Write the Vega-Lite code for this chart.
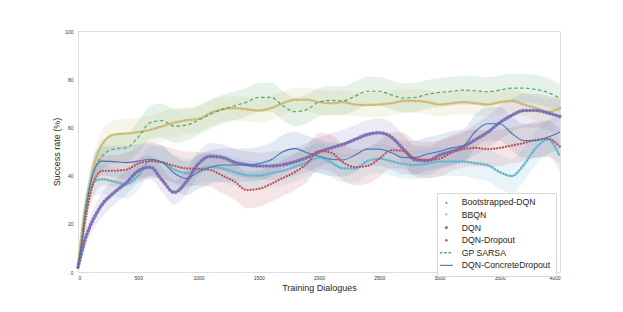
{
"$schema": "https://vega.github.io/schema/vega-lite/v6.json",
"width": 482, "height": 241,
"autosize": {"type": "none"},
"padding": {"left": 78, "top": 31, "right": 63, "bottom": 40},
"background": "white",
"config": {
 "font": "Liberation Sans",
 "view": {"stroke": "#dedede", "strokeWidth": 1},
 "axis": {"labelFontSize": 5, "labelColor": "#333333", "ticks": false, "domain": false, "grid": false, "titleFontSize": 9, "titleFontWeight": "normal", "titleColor": "#262626", "labelFont": "Liberation Sans", "titleFont": "Liberation Sans"}
},
"datasets": {"d": [
{"s":"BBQN","x":0,"y":3,"lo":2,"hi":4},
{"s":"BBQN","x":25,"y":14,"lo":11,"hi":17},
{"s":"BBQN","x":50,"y":24,"lo":20,"hi":28},
{"s":"BBQN","x":100,"y":37,"lo":32,"hi":42},
{"s":"BBQN","x":150,"y":47,"lo":41,"hi":53},
{"s":"BBQN","x":200,"y":53,"lo":47,"hi":59},
{"s":"BBQN","x":300,"y":57,"lo":51,"hi":63},
{"s":"BBQN","x":400,"y":57.5,"lo":51.5,"hi":63.5},
{"s":"BBQN","x":500,"y":58,"lo":52,"hi":64},
{"s":"BBQN","x":600,"y":59,"lo":53,"hi":65},
{"s":"BBQN","x":700,"y":60.5,"lo":54.5,"hi":66.5},
{"s":"BBQN","x":800,"y":62,"lo":56,"hi":68},
{"s":"BBQN","x":900,"y":63,"lo":57.5,"hi":68.5},
{"s":"BBQN","x":1000,"y":63.5,"lo":58,"hi":69},
{"s":"BBQN","x":1100,"y":66,"lo":60.5,"hi":71.5},
{"s":"BBQN","x":1200,"y":67.5,"lo":62.5,"hi":72.5},
{"s":"BBQN","x":1300,"y":68,"lo":63,"hi":73},
{"s":"BBQN","x":1400,"y":67.5,"lo":62.5,"hi":72.5},
{"s":"BBQN","x":1500,"y":67,"lo":62,"hi":72},
{"s":"BBQN","x":1600,"y":68,"lo":63,"hi":73},
{"s":"BBQN","x":1700,"y":70,"lo":65,"hi":75},
{"s":"BBQN","x":1800,"y":71.5,"lo":66.5,"hi":76.5},
{"s":"BBQN","x":1900,"y":71.5,"lo":66.5,"hi":76.5},
{"s":"BBQN","x":2000,"y":70.5,"lo":65.5,"hi":75.5},
{"s":"BBQN","x":2100,"y":70,"lo":65,"hi":75},
{"s":"BBQN","x":2200,"y":70.5,"lo":65.5,"hi":75.5},
{"s":"BBQN","x":2300,"y":69.5,"lo":64.5,"hi":74.5},
{"s":"BBQN","x":2400,"y":69.3,"lo":64.3,"hi":74.3},
{"s":"BBQN","x":2500,"y":69.5,"lo":64.5,"hi":74.5},
{"s":"BBQN","x":2600,"y":70,"lo":65,"hi":75},
{"s":"BBQN","x":2700,"y":71,"lo":66,"hi":76},
{"s":"BBQN","x":2800,"y":71,"lo":66,"hi":76},
{"s":"BBQN","x":2900,"y":70.5,"lo":65.5,"hi":75.5},
{"s":"BBQN","x":3000,"y":69.5,"lo":64.5,"hi":74.5},
{"s":"BBQN","x":3100,"y":70,"lo":65,"hi":75},
{"s":"BBQN","x":3200,"y":70.5,"lo":65.5,"hi":75.5},
{"s":"BBQN","x":3300,"y":70,"lo":65,"hi":75},
{"s":"BBQN","x":3400,"y":69.5,"lo":64.5,"hi":74.5},
{"s":"BBQN","x":3500,"y":70.5,"lo":65.5,"hi":75.5},
{"s":"BBQN","x":3600,"y":71,"lo":66,"hi":76},
{"s":"BBQN","x":3700,"y":69.5,"lo":64.5,"hi":74.5},
{"s":"BBQN","x":3800,"y":68,"lo":63,"hi":73},
{"s":"BBQN","x":3900,"y":66.5,"lo":61.5,"hi":71.5},
{"s":"BBQN","x":4000,"y":68,"lo":63,"hi":73},
{"s":"GP SARSA","x":0,"y":2,"lo":1,"hi":3},
{"s":"GP SARSA","x":25,"y":11,"lo":8,"hi":14},
{"s":"GP SARSA","x":50,"y":22,"lo":18,"hi":26},
{"s":"GP SARSA","x":100,"y":36,"lo":31,"hi":41},
{"s":"GP SARSA","x":150,"y":44,"lo":38,"hi":50},
{"s":"GP SARSA","x":200,"y":48,"lo":42,"hi":54},
{"s":"GP SARSA","x":300,"y":51,"lo":45,"hi":57},
{"s":"GP SARSA","x":400,"y":51.5,"lo":45.5,"hi":57.5},
{"s":"GP SARSA","x":500,"y":56,"lo":49.5,"hi":62.5},
{"s":"GP SARSA","x":600,"y":62,"lo":55,"hi":69},
{"s":"GP SARSA","x":700,"y":62.8,"lo":55.8,"hi":69.8},
{"s":"GP SARSA","x":800,"y":60.5,"lo":53.5,"hi":67.5},
{"s":"GP SARSA","x":900,"y":61,"lo":54.5,"hi":67.5},
{"s":"GP SARSA","x":1000,"y":63,"lo":57,"hi":69},
{"s":"GP SARSA","x":1100,"y":65.5,"lo":59.5,"hi":71.5},
{"s":"GP SARSA","x":1200,"y":67.5,"lo":61.5,"hi":73.5},
{"s":"GP SARSA","x":1300,"y":69,"lo":63,"hi":75},
{"s":"GP SARSA","x":1400,"y":70.5,"lo":64.5,"hi":76.5},
{"s":"GP SARSA","x":1500,"y":72.5,"lo":66.5,"hi":78.5},
{"s":"GP SARSA","x":1600,"y":72.5,"lo":66.5,"hi":78.5},
{"s":"GP SARSA","x":1700,"y":69,"lo":63,"hi":75},
{"s":"GP SARSA","x":1800,"y":66.5,"lo":60.5,"hi":72.5},
{"s":"GP SARSA","x":1900,"y":67.5,"lo":61.5,"hi":73.5},
{"s":"GP SARSA","x":2000,"y":70.5,"lo":64.5,"hi":76.5},
{"s":"GP SARSA","x":2100,"y":71.2,"lo":65.2,"hi":77.2},
{"s":"GP SARSA","x":2200,"y":71,"lo":65,"hi":77},
{"s":"GP SARSA","x":2300,"y":73,"lo":67,"hi":79},
{"s":"GP SARSA","x":2400,"y":75,"lo":69,"hi":81},
{"s":"GP SARSA","x":2500,"y":75,"lo":69,"hi":81},
{"s":"GP SARSA","x":2600,"y":73.5,"lo":67.5,"hi":79.5},
{"s":"GP SARSA","x":2700,"y":72.2,"lo":66.2,"hi":78.2},
{"s":"GP SARSA","x":2800,"y":72.5,"lo":66.5,"hi":78.5},
{"s":"GP SARSA","x":2900,"y":73.7,"lo":67.7,"hi":79.7},
{"s":"GP SARSA","x":3000,"y":74.5,"lo":68.5,"hi":80.5},
{"s":"GP SARSA","x":3100,"y":75,"lo":69,"hi":81},
{"s":"GP SARSA","x":3200,"y":75.5,"lo":69.5,"hi":81.5},
{"s":"GP SARSA","x":3300,"y":75.2,"lo":69.2,"hi":81.2},
{"s":"GP SARSA","x":3400,"y":74.8,"lo":68.8,"hi":80.8},
{"s":"GP SARSA","x":3500,"y":75.5,"lo":69.5,"hi":81.5},
{"s":"GP SARSA","x":3600,"y":76.3,"lo":70.3,"hi":82.3},
{"s":"GP SARSA","x":3700,"y":76.3,"lo":70.3,"hi":82.3},
{"s":"GP SARSA","x":3800,"y":75.7,"lo":69.7,"hi":81.7},
{"s":"GP SARSA","x":3900,"y":74.5,"lo":68.5,"hi":80.5},
{"s":"GP SARSA","x":4000,"y":72,"lo":66,"hi":78},
{"s":"DQN","x":0,"y":2,"lo":1,"hi":3},
{"s":"DQN","x":25,"y":7,"lo":5,"hi":9},
{"s":"DQN","x":50,"y":12,"lo":9,"hi":15},
{"s":"DQN","x":100,"y":19,"lo":15,"hi":23},
{"s":"DQN","x":150,"y":24,"lo":19.5,"hi":28.5},
{"s":"DQN","x":200,"y":28,"lo":23,"hi":33},
{"s":"DQN","x":300,"y":33,"lo":28,"hi":38},
{"s":"DQN","x":400,"y":37,"lo":32,"hi":42},
{"s":"DQN","x":500,"y":42,"lo":37,"hi":47},
{"s":"DQN","x":600,"y":43.5,"lo":38.5,"hi":48.5},
{"s":"DQN","x":700,"y":38,"lo":33,"hi":43},
{"s":"DQN","x":800,"y":33,"lo":28,"hi":38},
{"s":"DQN","x":900,"y":37.5,"lo":32.5,"hi":42.5},
{"s":"DQN","x":1000,"y":45,"lo":40,"hi":50},
{"s":"DQN","x":1100,"y":48,"lo":42.5,"hi":53.5},
{"s":"DQN","x":1200,"y":47.5,"lo":42,"hi":53},
{"s":"DQN","x":1300,"y":45.5,"lo":40,"hi":51},
{"s":"DQN","x":1400,"y":44.5,"lo":39,"hi":50},
{"s":"DQN","x":1500,"y":44,"lo":38.5,"hi":49.5},
{"s":"DQN","x":1600,"y":44,"lo":38,"hi":50},
{"s":"DQN","x":1700,"y":44.5,"lo":38.5,"hi":50.5},
{"s":"DQN","x":1800,"y":45.8,"lo":39.8,"hi":51.8},
{"s":"DQN","x":1900,"y":47.5,"lo":41.5,"hi":53.5},
{"s":"DQN","x":2000,"y":49.8,"lo":43.8,"hi":55.8},
{"s":"DQN","x":2100,"y":51.5,"lo":45.5,"hi":57.5},
{"s":"DQN","x":2200,"y":53,"lo":47,"hi":59},
{"s":"DQN","x":2300,"y":55,"lo":49,"hi":61},
{"s":"DQN","x":2400,"y":57,"lo":51,"hi":63},
{"s":"DQN","x":2500,"y":57.8,"lo":51.8,"hi":63.8},
{"s":"DQN","x":2600,"y":56,"lo":50,"hi":62},
{"s":"DQN","x":2700,"y":51,"lo":45,"hi":57},
{"s":"DQN","x":2800,"y":46.5,"lo":40.5,"hi":52.5},
{"s":"DQN","x":2900,"y":46.2,"lo":40.2,"hi":52.2},
{"s":"DQN","x":3000,"y":48.5,"lo":42.5,"hi":54.5},
{"s":"DQN","x":3100,"y":50,"lo":44,"hi":56},
{"s":"DQN","x":3200,"y":52,"lo":46,"hi":58},
{"s":"DQN","x":3300,"y":55,"lo":48.5,"hi":61.5},
{"s":"DQN","x":3400,"y":58,"lo":51.5,"hi":64.5},
{"s":"DQN","x":3500,"y":62,"lo":55,"hi":69},
{"s":"DQN","x":3600,"y":65,"lo":58,"hi":72},
{"s":"DQN","x":3700,"y":67,"lo":60,"hi":74},
{"s":"DQN","x":3800,"y":67,"lo":60,"hi":74},
{"s":"DQN","x":3900,"y":66,"lo":59,"hi":73},
{"s":"DQN","x":4000,"y":64.5,"lo":57.5,"hi":71.5},
{"s":"DQN-Dropout","x":0,"y":2,"lo":1,"hi":3},
{"s":"DQN-Dropout","x":25,"y":10,"lo":7.5,"hi":12.5},
{"s":"DQN-Dropout","x":50,"y":18,"lo":14,"hi":22},
{"s":"DQN-Dropout","x":100,"y":32,"lo":27,"hi":37},
{"s":"DQN-Dropout","x":150,"y":39.5,"lo":33.5,"hi":45.5},
{"s":"DQN-Dropout","x":200,"y":42,"lo":36,"hi":48},
{"s":"DQN-Dropout","x":300,"y":42,"lo":35.5,"hi":48.5},
{"s":"DQN-Dropout","x":400,"y":42.5,"lo":35.5,"hi":49.5},
{"s":"DQN-Dropout","x":500,"y":45,"lo":38,"hi":52},
{"s":"DQN-Dropout","x":600,"y":46,"lo":39,"hi":53},
{"s":"DQN-Dropout","x":700,"y":45.5,"lo":38.5,"hi":52.5},
{"s":"DQN-Dropout","x":800,"y":44,"lo":37,"hi":51},
{"s":"DQN-Dropout","x":900,"y":43,"lo":36,"hi":50},
{"s":"DQN-Dropout","x":1000,"y":42.8,"lo":35.8,"hi":49.8},
{"s":"DQN-Dropout","x":1100,"y":42.3,"lo":35.3,"hi":49.3},
{"s":"DQN-Dropout","x":1200,"y":40,"lo":32.5,"hi":47.5},
{"s":"DQN-Dropout","x":1300,"y":37.5,"lo":30,"hi":45},
{"s":"DQN-Dropout","x":1400,"y":34,"lo":26.5,"hi":41.5},
{"s":"DQN-Dropout","x":1500,"y":34.5,"lo":27,"hi":42},
{"s":"DQN-Dropout","x":1600,"y":36.5,"lo":29,"hi":44},
{"s":"DQN-Dropout","x":1700,"y":39,"lo":31.5,"hi":46.5},
{"s":"DQN-Dropout","x":1800,"y":41.5,"lo":34,"hi":49},
{"s":"DQN-Dropout","x":1900,"y":45,"lo":37.5,"hi":52.5},
{"s":"DQN-Dropout","x":2000,"y":50.2,"lo":42.7,"hi":57.7},
{"s":"DQN-Dropout","x":2100,"y":49.5,"lo":42,"hi":57},
{"s":"DQN-Dropout","x":2200,"y":45.5,"lo":38,"hi":53},
{"s":"DQN-Dropout","x":2300,"y":43.5,"lo":36,"hi":51},
{"s":"DQN-Dropout","x":2400,"y":44,"lo":36.5,"hi":51.5},
{"s":"DQN-Dropout","x":2500,"y":47,"lo":39.5,"hi":54.5},
{"s":"DQN-Dropout","x":2600,"y":50.5,"lo":43,"hi":58},
{"s":"DQN-Dropout","x":2700,"y":50.2,"lo":42.7,"hi":57.7},
{"s":"DQN-Dropout","x":2800,"y":47,"lo":39.5,"hi":54.5},
{"s":"DQN-Dropout","x":2900,"y":46.5,"lo":39,"hi":54},
{"s":"DQN-Dropout","x":3000,"y":47,"lo":39.5,"hi":54.5},
{"s":"DQN-Dropout","x":3100,"y":49.5,"lo":42,"hi":57},
{"s":"DQN-Dropout","x":3200,"y":51,"lo":43.5,"hi":58.5},
{"s":"DQN-Dropout","x":3300,"y":51.5,"lo":44,"hi":59},
{"s":"DQN-Dropout","x":3400,"y":51,"lo":43.5,"hi":58.5},
{"s":"DQN-Dropout","x":3500,"y":51.5,"lo":44,"hi":59},
{"s":"DQN-Dropout","x":3600,"y":52.5,"lo":45,"hi":60},
{"s":"DQN-Dropout","x":3700,"y":53.5,"lo":46,"hi":61},
{"s":"DQN-Dropout","x":3800,"y":54.8,"lo":47.3,"hi":62.3},
{"s":"DQN-Dropout","x":3900,"y":55.3,"lo":47.8,"hi":62.8},
{"s":"DQN-Dropout","x":4000,"y":52,"lo":44.5,"hi":59.5},
{"s":"Bootstrapped-DQN","x":0,"y":2,"lo":1,"hi":3},
{"s":"Bootstrapped-DQN","x":25,"y":10,"lo":7.5,"hi":12.5},
{"s":"Bootstrapped-DQN","x":50,"y":22,"lo":18,"hi":26},
{"s":"Bootstrapped-DQN","x":100,"y":34,"lo":29,"hi":39},
{"s":"Bootstrapped-DQN","x":150,"y":38,"lo":32,"hi":44},
{"s":"Bootstrapped-DQN","x":200,"y":38.5,"lo":32.5,"hi":44.5},
{"s":"Bootstrapped-DQN","x":300,"y":37.5,"lo":31.5,"hi":43.5},
{"s":"Bootstrapped-DQN","x":400,"y":36.5,"lo":30.5,"hi":42.5},
{"s":"Bootstrapped-DQN","x":500,"y":40,"lo":34,"hi":46},
{"s":"Bootstrapped-DQN","x":600,"y":46.2,"lo":40.2,"hi":52.2},
{"s":"Bootstrapped-DQN","x":700,"y":45.5,"lo":39.5,"hi":51.5},
{"s":"Bootstrapped-DQN","x":800,"y":42.5,"lo":36.5,"hi":48.5},
{"s":"Bootstrapped-DQN","x":900,"y":41,"lo":35,"hi":47},
{"s":"Bootstrapped-DQN","x":1000,"y":42.5,"lo":36.5,"hi":48.5},
{"s":"Bootstrapped-DQN","x":1100,"y":43.6,"lo":37.6,"hi":49.6},
{"s":"Bootstrapped-DQN","x":1200,"y":43,"lo":37,"hi":49},
{"s":"Bootstrapped-DQN","x":1300,"y":41.5,"lo":35.5,"hi":47.5},
{"s":"Bootstrapped-DQN","x":1400,"y":40.2,"lo":34.2,"hi":46.2},
{"s":"Bootstrapped-DQN","x":1500,"y":40,"lo":34,"hi":46},
{"s":"Bootstrapped-DQN","x":1600,"y":41,"lo":35,"hi":47},
{"s":"Bootstrapped-DQN","x":1700,"y":42,"lo":36,"hi":48},
{"s":"Bootstrapped-DQN","x":1800,"y":43.7,"lo":37.7,"hi":49.7},
{"s":"Bootstrapped-DQN","x":1900,"y":45.5,"lo":39.5,"hi":51.5},
{"s":"Bootstrapped-DQN","x":2000,"y":47.5,"lo":41.5,"hi":53.5},
{"s":"Bootstrapped-DQN","x":2100,"y":45.5,"lo":39.5,"hi":51.5},
{"s":"Bootstrapped-DQN","x":2200,"y":43,"lo":37,"hi":49},
{"s":"Bootstrapped-DQN","x":2300,"y":43,"lo":37,"hi":49},
{"s":"Bootstrapped-DQN","x":2400,"y":46,"lo":40,"hi":52},
{"s":"Bootstrapped-DQN","x":2500,"y":47,"lo":41,"hi":53},
{"s":"Bootstrapped-DQN","x":2600,"y":46,"lo":40,"hi":52},
{"s":"Bootstrapped-DQN","x":2700,"y":44.8,"lo":38.8,"hi":50.8},
{"s":"Bootstrapped-DQN","x":2800,"y":44.4,"lo":38.4,"hi":50.4},
{"s":"Bootstrapped-DQN","x":2900,"y":45,"lo":39,"hi":51},
{"s":"Bootstrapped-DQN","x":3000,"y":45.8,"lo":39.8,"hi":51.8},
{"s":"Bootstrapped-DQN","x":3100,"y":45.8,"lo":39.8,"hi":51.8},
{"s":"Bootstrapped-DQN","x":3200,"y":45.8,"lo":39.8,"hi":51.8},
{"s":"Bootstrapped-DQN","x":3300,"y":45.1,"lo":38.6,"hi":51.6},
{"s":"Bootstrapped-DQN","x":3400,"y":44.3,"lo":37.8,"hi":50.8},
{"s":"Bootstrapped-DQN","x":3500,"y":41.5,"lo":34.5,"hi":48.5},
{"s":"Bootstrapped-DQN","x":3600,"y":39.8,"lo":32.8,"hi":46.8},
{"s":"Bootstrapped-DQN","x":3700,"y":44.5,"lo":37.5,"hi":51.5},
{"s":"Bootstrapped-DQN","x":3800,"y":51.5,"lo":44.5,"hi":58.5},
{"s":"Bootstrapped-DQN","x":3900,"y":55,"lo":48,"hi":62},
{"s":"Bootstrapped-DQN","x":4000,"y":47.8,"lo":40.8,"hi":54.8},
{"s":"DQN-ConcreteDropout","x":0,"y":2,"lo":1,"hi":3},
{"s":"DQN-ConcreteDropout","x":25,"y":10,"lo":7.5,"hi":12.5},
{"s":"DQN-ConcreteDropout","x":50,"y":20,"lo":16,"hi":24},
{"s":"DQN-ConcreteDropout","x":100,"y":36,"lo":31,"hi":41},
{"s":"DQN-ConcreteDropout","x":150,"y":44,"lo":38,"hi":50},
{"s":"DQN-ConcreteDropout","x":200,"y":46,"lo":40,"hi":52},
{"s":"DQN-ConcreteDropout","x":300,"y":45.8,"lo":39.3,"hi":52.3},
{"s":"DQN-ConcreteDropout","x":400,"y":45.4,"lo":38.4,"hi":52.4},
{"s":"DQN-ConcreteDropout","x":500,"y":46,"lo":39,"hi":53},
{"s":"DQN-ConcreteDropout","x":600,"y":46.8,"lo":39.8,"hi":53.8},
{"s":"DQN-ConcreteDropout","x":700,"y":45.5,"lo":38.5,"hi":52.5},
{"s":"DQN-ConcreteDropout","x":800,"y":41,"lo":34,"hi":48},
{"s":"DQN-ConcreteDropout","x":900,"y":38.8,"lo":31.8,"hi":45.8},
{"s":"DQN-ConcreteDropout","x":1000,"y":41.5,"lo":34.5,"hi":48.5},
{"s":"DQN-ConcreteDropout","x":1100,"y":43.5,"lo":36.5,"hi":50.5},
{"s":"DQN-ConcreteDropout","x":1200,"y":44.4,"lo":37.4,"hi":51.4},
{"s":"DQN-ConcreteDropout","x":1300,"y":44.4,"lo":37.4,"hi":51.4},
{"s":"DQN-ConcreteDropout","x":1400,"y":44.4,"lo":37.4,"hi":51.4},
{"s":"DQN-ConcreteDropout","x":1500,"y":45,"lo":38,"hi":52},
{"s":"DQN-ConcreteDropout","x":1600,"y":46.5,"lo":39.5,"hi":53.5},
{"s":"DQN-ConcreteDropout","x":1700,"y":49.9,"lo":42.9,"hi":56.9},
{"s":"DQN-ConcreteDropout","x":1800,"y":51.2,"lo":44.2,"hi":58.2},
{"s":"DQN-ConcreteDropout","x":1900,"y":49.5,"lo":42.5,"hi":56.5},
{"s":"DQN-ConcreteDropout","x":2000,"y":48,"lo":41,"hi":55},
{"s":"DQN-ConcreteDropout","x":2100,"y":46.8,"lo":39.8,"hi":53.8},
{"s":"DQN-ConcreteDropout","x":2200,"y":46.5,"lo":39.5,"hi":53.5},
{"s":"DQN-ConcreteDropout","x":2300,"y":48.5,"lo":41.5,"hi":55.5},
{"s":"DQN-ConcreteDropout","x":2400,"y":51,"lo":44,"hi":58},
{"s":"DQN-ConcreteDropout","x":2500,"y":51,"lo":44,"hi":58},
{"s":"DQN-ConcreteDropout","x":2600,"y":49.5,"lo":42.5,"hi":56.5},
{"s":"DQN-ConcreteDropout","x":2700,"y":47.5,"lo":40.5,"hi":54.5},
{"s":"DQN-ConcreteDropout","x":2800,"y":47.5,"lo":40.5,"hi":54.5},
{"s":"DQN-ConcreteDropout","x":2900,"y":49,"lo":42,"hi":56},
{"s":"DQN-ConcreteDropout","x":3000,"y":50,"lo":43,"hi":57},
{"s":"DQN-ConcreteDropout","x":3100,"y":51.5,"lo":44.5,"hi":58.5},
{"s":"DQN-ConcreteDropout","x":3200,"y":52.5,"lo":45.5,"hi":59.5},
{"s":"DQN-ConcreteDropout","x":3300,"y":58.5,"lo":51.5,"hi":65.5},
{"s":"DQN-ConcreteDropout","x":3400,"y":61.5,"lo":54.5,"hi":68.5},
{"s":"DQN-ConcreteDropout","x":3500,"y":61.5,"lo":54.5,"hi":68.5},
{"s":"DQN-ConcreteDropout","x":3600,"y":57.5,"lo":50.5,"hi":64.5},
{"s":"DQN-ConcreteDropout","x":3700,"y":54.5,"lo":47.5,"hi":61.5},
{"s":"DQN-ConcreteDropout","x":3800,"y":54.5,"lo":47.5,"hi":61.5},
{"s":"DQN-ConcreteDropout","x":3900,"y":56,"lo":49,"hi":63},
{"s":"DQN-ConcreteDropout","x":4000,"y":58,"lo":51,"hi":65}
]},
"data": {"name": "d"},
"encoding": {
 "x": {"field": "x", "type": "quantitative", "title": "Training Dialogues",
   "scale": {"domain": [0, 4000], "nice": false},
   "axis": {"values": [0,500,1000,1500,2000,2500,3000,3500,4000], "format": "d", "labelPadding": 3, "titlePadding": 3}},
 "y": {"field": "y", "type": "quantitative", "title": "Success rate (%)",
   "scale": {"domain": [0, 100], "nice": false},
   "axis": {"values": [0,20,40,60,80,100], "labelPadding": 5, "titlePadding": 3}},
 "color": {"field": "s", "type": "nominal",
   "scale": {"domain": ["Bootstrapped-DQN","BBQN","DQN","DQN-Dropout","GP SARSA","DQN-ConcreteDropout"],
             "range": ["#64B5CD","#CCB974","#8172B2","#C44E52","#55A868","#4C72B0"]},
   "legend": {"title": null, "orient": "none", "legendX": 359, "legendY": 162,
     "padding": 5, "strokeColor": "#d9d9d9", "fillColor": "#ffffff",
     "labelFont": "Liberation Sans", "labelFontSize": 8.7, "labelColor": "#262626",
     "rowPadding": 2.6, "labelOffset": 11, "symbolType": "stroke", "symbolSize": 169,
     "encode": {"symbols": {"update": {
       "shape": {"signal": "datum.value=='Bootstrapped-DQN' ? 'triangle-up' : datum.value=='BBQN' ? 'triangle-down' : (datum.value=='DQN' || datum.value=='DQN-Dropout') ? 'circle' : 'stroke'"},
       "size": {"signal": "datum.value=='GP SARSA' || datum.value=='DQN-ConcreteDropout' ? 169 : datum.value=='DQN-Dropout' ? 6 : 10"},
       "fill": {"signal": "datum.value=='GP SARSA' || datum.value=='DQN-ConcreteDropout' ? 'transparent' : scale('color', datum.value)"},
       "stroke": {"signal": "scale('color', datum.value)"},
       "strokeWidth": {"signal": "datum.value=='GP SARSA' ? 1.3 : datum.value=='DQN-ConcreteDropout' ? 1.1 : 0"},
       "strokeDash": {"signal": "datum.value=='GP SARSA' ? [2.5, 1.8] : []"},
       "opacity": {"value": 1}
     }}}}}
},
"layer": [
 {"mark": {"type": "area", "interpolate": "monotone", "opacity": 0.15},
  "encoding": {"y": {"field": "lo", "type": "quantitative"}, "y2": {"field": "hi"}}},
 {"transform": [{"filter": "datum.s == 'Bootstrapped-DQN'"}],
  "mark": {"type": "line", "interpolate": "monotone", "strokeWidth": 2.6, "strokeDash": [0.3, 2.8], "strokeCap": "round"}},
 {"transform": [{"filter": "datum.s == 'BBQN'"}],
  "mark": {"type": "line", "interpolate": "monotone", "strokeWidth": 2.6, "strokeDash": [0.3, 2.6], "strokeCap": "round"}},
 {"transform": [{"filter": "datum.s == 'DQN'"}],
  "mark": {"type": "line", "interpolate": "monotone", "strokeWidth": 3.6, "strokeDash": [0.1, 3.3], "strokeCap": "round"}},
 {"transform": [{"filter": "datum.s == 'DQN-Dropout'"}],
  "mark": {"type": "line", "interpolate": "monotone", "strokeWidth": 2.2, "strokeDash": [0.1, 2.9], "strokeCap": "round"}},
 {"transform": [{"filter": "datum.s == 'GP SARSA'"}],
  "mark": {"type": "line", "interpolate": "monotone", "strokeWidth": 1.2, "strokeDash": [3.5, 2.5]}},
 {"transform": [{"filter": "datum.s == 'DQN-ConcreteDropout'"}],
  "mark": {"type": "line", "interpolate": "monotone", "strokeWidth": 1.1}}
]
}
